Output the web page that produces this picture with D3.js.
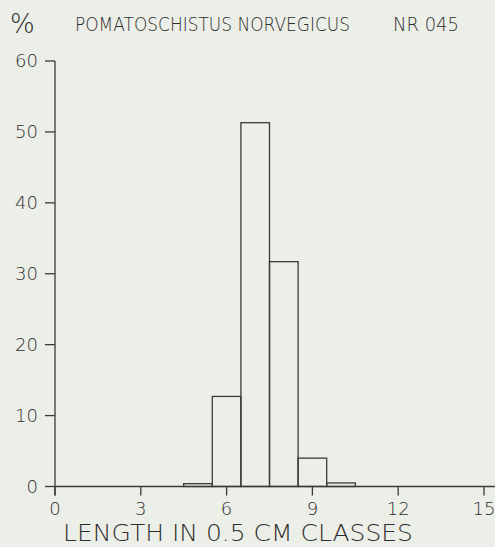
<!DOCTYPE html>
<html><head><meta charset="utf-8">
<script src="https://cdn.jsdelivr.net/npm/d3@7"></script>
<style>
html,body{margin:0;padding:0;background:#eceee8;}
svg{display:block;}
text{font-family:"DejaVu Sans","DejaVu Sans Condensed",sans-serif;font-weight:200;fill:#2e2e2e;}
</style></head>
<body><div id="chart"></div>
<script>
const binCenters = [5, 6, 7, 8, 9, 10];
const percentValues = [0.4, 12.7, 51.3, 31.7, 4.0, 0.5];
const xTicks = [0, 3, 6, 9, 12, 15];
const yTicks = [0, 10, 20, 30, 40, 50, 60];
const titleText = "POMATOSCHISTUS NORVEGICUS";
const sampleText = "NR 045";
const xAxisTitle = "LENGTH IN 0.5 CM CLASSES";

const W = 495, H = 547;
const svg = d3.select("#chart").append("svg").attr("width", W).attr("height", H);
svg.append("rect").attr("width", W).attr("height", H).attr("fill", "#eceee8");

const x = d3.scaleLinear().domain([0, 15]).range([55, 484]);
const y = d3.scaleLinear().domain([0, 60]).range([486.5, 61]);
const ink = "#3a3a3a";

// bars
svg.selectAll("rect.bar").data(binCenters).enter().append("rect")
  .attr("class", "bar")
  .attr("x", d => x(d - 0.5))
  .attr("width", d => x(d + 0.5) - x(d - 0.5))
  .attr("y", (d, i) => y(percentValues[i]))
  .attr("height", (d, i) => y(0) - y(percentValues[i]))
  .attr("fill", "none").attr("stroke", ink).attr("stroke-width", 1.3);

// x axis line
svg.append("line").attr("x1", x(0)).attr("x2", 495).attr("y1", y(0)).attr("y2", y(0))
  .attr("stroke", ink).attr("stroke-width", 1.3);
// y axis line
svg.append("line").attr("x1", x(0)).attr("x2", x(0)).attr("y1", y(60)).attr("y2", y(0) + 9)
  .attr("stroke", ink).attr("stroke-width", 1.3);

// y ticks
svg.selectAll("line.yt").data(yTicks).enter().append("line")
  .attr("x1", x(0) - 10).attr("x2", x(0))
  .attr("y1", d => y(d)).attr("y2", d => y(d))
  .attr("stroke", ink).attr("stroke-width", 1.3);
svg.selectAll("text.yl").data(yTicks).enter().append("text")
  .attr("x", 38).attr("y", d => y(d) + 6)
  .attr("text-anchor", "end").attr("font-size", 18)
  .text(d => d);

// x ticks
svg.selectAll("line.xt").data(xTicks).enter().append("line")
  .attr("x1", d => x(d)).attr("x2", d => x(d))
  .attr("y1", y(0)).attr("y2", y(0) + 9)
  .attr("stroke", ink).attr("stroke-width", 1.3);
svg.selectAll("text.xl").data(xTicks).enter().append("text")
  .attr("x", d => x(d)).attr("y", 515)
  .attr("text-anchor", "middle").attr("font-size", 18)
  .text(d => d);

// titles
svg.append("text").attr("x", 10).attr("y", 33).attr("font-size", 26).text("%");
svg.append("text").attr("x", 75).attr("y", 31).attr("font-size", 19)
  .attr("textLength", 275).attr("lengthAdjust", "spacingAndGlyphs").text(titleText);
svg.append("text").attr("x", 393).attr("y", 31).attr("font-size", 19)
  .attr("textLength", 66).attr("lengthAdjust", "spacingAndGlyphs").text(sampleText);
svg.append("text").attr("x", 63).attr("y", 541).attr("font-size", 23)
  .attr("textLength", 350).attr("lengthAdjust", "spacingAndGlyphs").text(xAxisTitle);
</script></body></html>
